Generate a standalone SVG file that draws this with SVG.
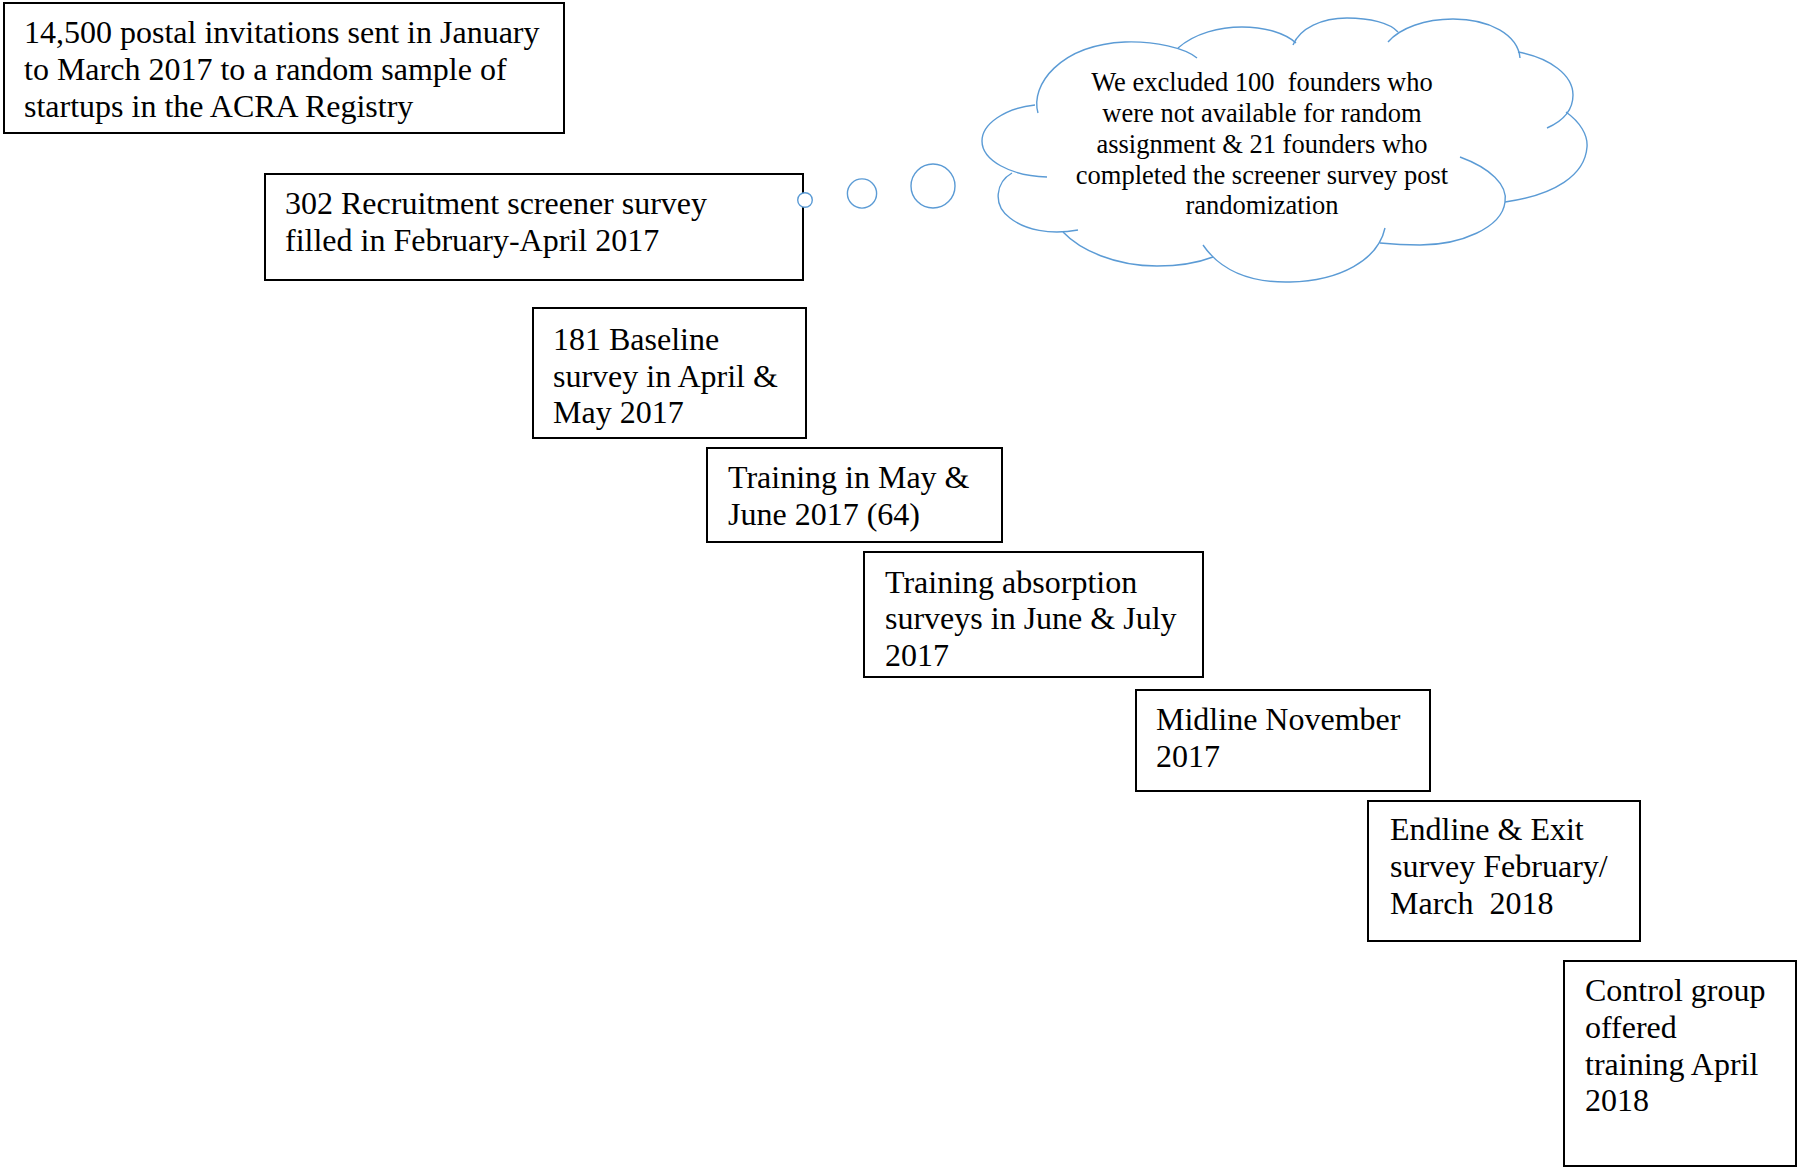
<svg xmlns="http://www.w3.org/2000/svg" width="1797" height="1167" viewBox="0 0 1797 1167">
<style>
.box{fill:#fff;stroke:#000;stroke-width:2}
.t{font-family:"Liberation Serif","Times New Roman",serif;font-size:32px;fill:#000}
.ct{font-family:"Liberation Serif","Times New Roman",serif;font-size:26.5px;fill:#000;text-anchor:middle}
.cl{fill:none;stroke:#5B9BD5;stroke-width:1.4}
.bub{fill:#fff;stroke:#5B9BD5;stroke-width:1.4}
</style>
<rect width="1797" height="1167" fill="#fff"/>
<g id="n1"><rect class="box" x="4" y="3" width="560" height="130"/>
<text class="t" x="24" y="43">14,500 postal invitations sent in January</text>
<text class="t" x="24" y="80">to March 2017 to a random sample of</text>
<text class="t" x="24" y="116.5">startups in the ACRA Registry</text></g>
<g id="n2"><rect class="box" x="265" y="174" width="538" height="106"/>
<text class="t" x="285" y="214">302 Recruitment screener survey</text>
<text class="t" x="285" y="251">filled in February-April 2017</text></g>
<g id="n3"><rect class="box" x="533" y="308" width="273" height="130"/>
<text class="t" x="553" y="350">181 Baseline</text>
<text class="t" x="553" y="386.5">survey in April &amp;</text>
<text class="t" x="553" y="423">May 2017</text></g>
<g id="n4"><rect class="box" x="707" y="448" width="295" height="94"/>
<text class="t" x="728" y="488">Training in May &amp;</text>
<text class="t" x="728" y="525">June 2017 (64)</text></g>
<g id="n5"><rect class="box" x="864" y="552" width="339" height="125"/>
<text class="t" x="885" y="592.5">Training absorption</text>
<text class="t" x="885" y="629">surveys in June &amp; July</text>
<text class="t" x="885" y="666">2017</text></g>
<g id="n6"><rect class="box" x="1136" y="690" width="294" height="101"/>
<text class="t" x="1156" y="730">Midline November</text>
<text class="t" x="1156" y="767">2017</text></g>
<g id="n7"><rect class="box" x="1368" y="801" width="272" height="140"/>
<text class="t" x="1390" y="840">Endline &amp; Exit</text>
<text class="t" x="1390" y="877">survey February/</text>
<text class="t" x="1390" y="914" xml:space="preserve">March  2018</text></g>
<g id="n8"><rect class="box" x="1564" y="961" width="232" height="205"/>
<text class="t" x="1585" y="1001">Control group</text>
<text class="t" x="1585" y="1038">offered</text>
<text class="t" x="1585" y="1075">training April</text>
<text class="t" x="1585" y="1111">2018</text></g>
<g id="connectors">
<circle class="bub" cx="805" cy="200" r="7.3"/>
<circle class="bub" cx="862" cy="193.5" r="14.6"/>
<circle class="bub" cx="933" cy="186" r="22"/>
</g>
<g id="cloud">
<path class="cl" d="M1035,105 C1005,108 982,124 982,141 C982,160 1010,176 1047,177"/>
<path class="cl" d="M1012,173 C996,182 992,205 1010,218 C1025,230 1050,235 1078,230"/>
<path class="cl" d="M1063,232 C1080,250 1115,266 1157,266 C1180,266 1200,262 1213,257"/>
<path class="cl" d="M1203,245 C1220,270 1250,283 1290,282 C1340,281 1378,260 1385,228"/>
<path class="cl" d="M1460,157 C1490,168 1508,185 1505,202 C1502,228 1460,245 1420,245 C1405,245 1390,244 1380,243"/>
<path class="cl" d="M1566,112 C1580,122 1588,135 1587,147 C1585,175 1555,195 1505,202"/>
<path class="cl" d="M1518,52 C1550,58 1573,75 1573,95 C1573,110 1563,121 1547,128"/>
<path class="cl" d="M1388,42 C1400,28 1425,19 1453,19 C1490,19 1518,35 1520,58"/>
<path class="cl" d="M1293,45 C1300,28 1322,18 1347,18 C1370,18 1390,23 1398,32"/>
<path class="cl" d="M1178,48 C1195,33 1220,27 1242,27 C1265,27 1285,33 1296,43"/>
<path class="cl" d="M1038,113 C1030,85 1060,45 1125,42 C1155,41 1185,48 1197,58"/>
<text class="ct" x="1262" y="91" xml:space="preserve">We excluded 100  founders who</text>
<text class="ct" x="1262" y="122">were not available for random</text>
<text class="ct" x="1262" y="153">assignment &amp; 21 founders who</text>
<text class="ct" x="1262" y="183.5">completed the screener survey post</text>
<text class="ct" x="1262" y="214">randomization</text>
</g>
</svg>
